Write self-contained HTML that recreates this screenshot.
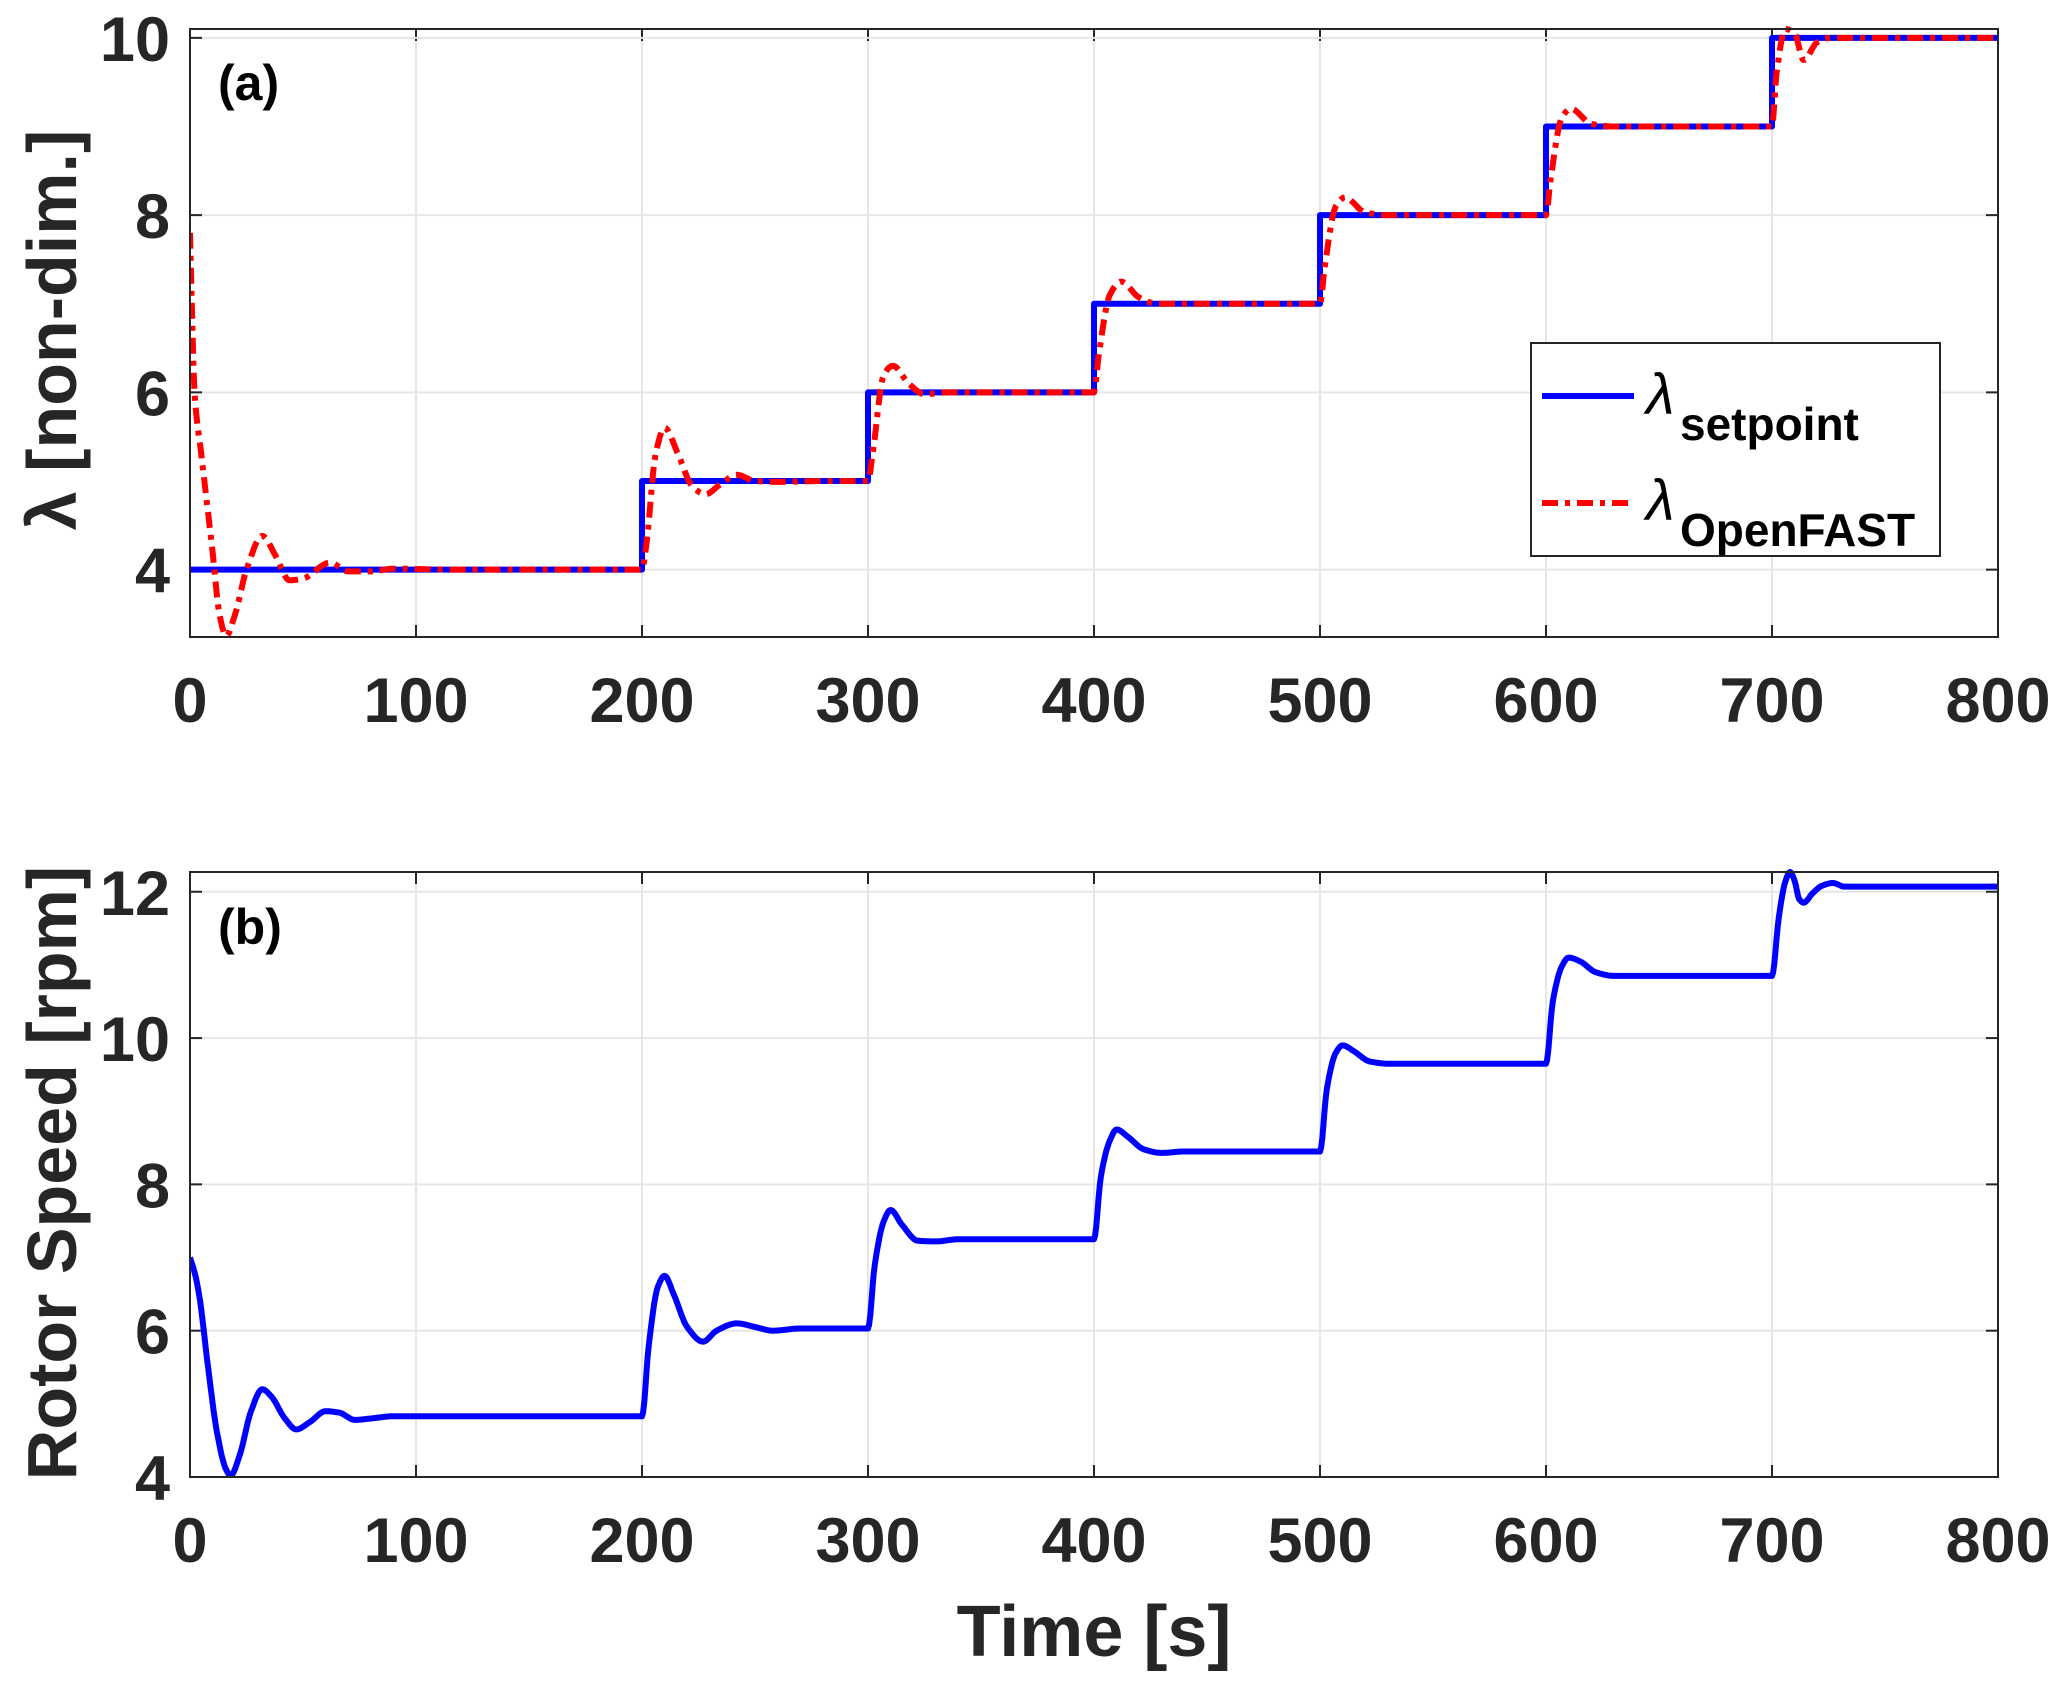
<!DOCTYPE html>
<html><head><meta charset="utf-8"><style>
html,body{margin:0;padding:0;background:#fff}
svg{display:block}
text{font-family:"Liberation Sans",Arial,sans-serif;font-weight:bold;fill:#262626}
</style></head><body>
<svg id="s" width="2067" height="1687" viewBox="0 0 2067 1687" xmlns="http://www.w3.org/2000/svg">
<g id="g"></g>
<text x="52" y="330" font-size="70" text-anchor="middle" transform="rotate(-90 52 330)" dominant-baseline="central">λ [non-dim.]</text>
<text x="52" y="1173" font-size="70" text-anchor="middle" transform="rotate(-90 52 1173)" dominant-baseline="central">Rotor Speed [rpm]</text>
<text x="1094" y="1656" font-size="72" text-anchor="middle">Time [s]</text>
<text x="218" y="100" font-size="50" style="fill:#000">(a)</text>
<text x="218" y="944" font-size="50" style="fill:#000">(b)</text>
<rect x="1531" y="343" width="409" height="213" fill="#fff" stroke="#262626" stroke-width="2"/>
<line x1="1542" y1="396" x2="1634" y2="396" stroke="#0000ff" stroke-width="6"/>
<line x1="1542" y1="503" x2="1634" y2="503" stroke="#ff0000" stroke-width="6" stroke-dasharray="16 7 5 7"/>
<text x="1646" y="414" font-size="58" style="font-weight:normal;font-style:italic;fill:#000">λ</text>
<text x="1680" y="440" font-size="46" style="fill:#000">setpoint</text>
<text x="1646" y="520" font-size="58" style="font-weight:normal;font-style:italic;fill:#000">λ</text>
<text x="1680" y="546" font-size="46" style="fill:#000">OpenFAST</text>
</svg>
<script>
var NS="http://www.w3.org/2000/svg",g=document.getElementById('g');
function el(t,a){var e=document.createElementNS(NS,t);for(var k in a)e.setAttribute(k,a[k]);g.appendChild(e);return e;}
var X0=190,X1=1998;
function X(t){return X0+(X1-X0)*t/800;}
function mono(pts){var n=pts.length,xs=pts.map(function(p){return p[0]}),ys=pts.map(function(p){return p[1]});
  var dl=[],m=[];for(var i=0;i<n-1;i++)dl.push((ys[i+1]-ys[i])/(xs[i+1]-xs[i]));
  m[0]=dl[0];m[n-1]=dl[n-2];
  for(i=1;i<n-1;i++){if(dl[i-1]*dl[i]<=0)m[i]=0;else{var w1=2*(xs[i+1]-xs[i])+(xs[i]-xs[i-1]),w2=(xs[i+1]-xs[i])+2*(xs[i]-xs[i-1]);m[i]=(w1+w2)/(w1/dl[i-1]+w2/dl[i]);}}
  var out=[];for(i=0;i<n-1;i++){var h=xs[i+1]-xs[i],N=Math.max(2,Math.ceil(h/0.5));
    for(var j=0;j<N;j++){var s=j/N,h00=2*s*s*s-3*s*s+1,h10=s*s*s-2*s*s+s,h01=-2*s*s*s+3*s*s,h11=s*s*s-s*s;
      out.push([xs[i]+s*h,h00*ys[i]+h10*h*m[i]+h01*ys[i+1]+h11*h*m[i+1]]);}}
  out.push(pts[n-1]);return out;}
function panel(top,bot,ymin,ymax,yt,series){
  function Y(v){return bot-(bot-top)*(v-ymin)/(ymax-ymin);}
  for(var t=0;t<=800;t+=100){var x=X(t);
    if(t>0&&t<800)el('line',{x1:x,y1:top,x2:x,y2:bot,stroke:'#e6e6e6','stroke-width':2});
    el('line',{x1:x,y1:bot,x2:x,y2:bot-12,stroke:'#262626','stroke-width':2});
    el('line',{x1:x,y1:top,x2:x,y2:top+12,stroke:'#262626','stroke-width':2});
    var tx=el('text',{x:x,y:bot+85,'font-size':63,'text-anchor':'middle'});tx.textContent=t;}
  yt.forEach(function(v){var y=Y(v);
    el('line',{x1:X0,y1:y,x2:X1,y2:y,stroke:'#e6e6e6','stroke-width':2});
    el('line',{x1:X0,y1:y,x2:X0+12,y2:y,stroke:'#262626','stroke-width':2});
    el('line',{x1:X1,y1:y,x2:X1-12,y2:y,stroke:'#262626','stroke-width':2});
    var tx=el('text',{x:170,y:y+23,'font-size':63,'text-anchor':'end'});tx.textContent=v;});
  var cp=el('clipPath',{id:'c'+top});var r=document.createElementNS(NS,'rect');
  r.setAttribute('x',X0);r.setAttribute('y',top-4);r.setAttribute('width',X1-X0);r.setAttribute('height',bot-top+4);cp.appendChild(r);
  series.forEach(function(s){
    var src=s.lin?s.pts:mono(s.pts);
    var d='M'+src.map(function(q){return X(q[0]).toFixed(1)+','+Y(q[1]).toFixed(1);}).join('L');
    var a={d:d,fill:'none',stroke:s.c,'stroke-width':6,'clip-path':'url(#c'+top+')','stroke-linejoin':'round'};
    if(s.dash)a['stroke-dasharray']=s.dash;el('path',a);});
  el('rect',{x:X0,y:top,width:X1-X0,height:bot-top,fill:'none',stroke:'#262626','stroke-width':2});
}
var sp=[[0,4],[200,4],[200,5],[300,5],[300,6],[400,6],[400,7],[500,7],[500,8],[600,8],[600,9],[700,9],[700,10],[800,10]];
var of=[[0,7.8],[2,6],[5,5.3],[10,4.2],[13,3.5],[16,3.25],[20,3.5],[25,4.0],[32,4.38],[38,4.15],[44,3.88],[50,3.9],[62,4.08],[70,3.98],[80,3.98],[90,4.01],[120,4],[200,4.0],[202,4.3],[206,5.3],[210,5.6],[216,5.3],[222,4.95],[228,4.85],[235,4.97],[242,5.07],[250,5.0],[260,4.99],[280,5],[300,5.0],[302,5.3],[307,6.2],[311,6.3],[318,6.1],[325,5.98],[335,6.0],[360,6],[400,6.0],[402,6.4],[407,7.1],[412,7.25],[420,7.07],[428,7.0],[460,7],[500,7.0],[502,7.4],[507,8.1],[511,8.2],[520,8.03],[530,8.0],[560,8],[600,8.0],[602,8.4],[607,9.1],[611,9.2],[620,9.03],[630,9.0],[660,9],[700,9.0],[702,9.6],[706,10.1],[710,10.05],[714,9.75],[720,9.95],[726,10.0],[760,10],[800,10.0]];
var rs=[[0,7.0],[2,6.8],[4,6.5],[8,5.5],[12,4.6],[16,4.1],[18,4.02],[22,4.3],[27,4.9],[32,5.2],[36,5.1],[42,4.8],[47,4.65],[53,4.75],[60,4.9],[66,4.88],[73,4.78],[80,4.8],[90,4.83],[140,4.83],[200,4.83],[203,5.8],[207,6.6],[210,6.75],[214,6.5],[220,6.05],[227,5.85],[233,6.0],[242,6.1],[250,6.05],[258,6.0],[270,6.03],[285,6.03],[300,6.03],[303,6.9],[307,7.5],[310,7.65],[315,7.45],[322,7.23],[330,7.22],[340,7.25],[370,7.25],[400,7.25],[403,8.1],[407,8.6],[410,8.75],[415,8.65],[422,8.48],[430,8.43],[440,8.45],[470,8.45],[500,8.45],[503,9.3],[507,9.8],[510,9.9],[515,9.82],[522,9.68],[530,9.65],[560,9.65],[600,9.65],[603,10.5],[607,10.98],[610,11.1],[615,11.05],[622,10.9],[630,10.85],[660,10.85],[700,10.85],[703,11.65],[706,12.15],[708,12.27],[710,12.15],[712,11.9],[714,11.85],[718,11.98],[722,12.08],[727,12.12],[732,12.07],[760,12.07],[800,12.07]];
panel(29,637,3.24,10.1,[4,6,8,10],[{pts:sp,c:'#0000ff',lin:true},{pts:of,c:'#ff0000',dash:'16 7 5 7'}]);
panel(872,1477,4,12.27,[4,6,8,10,12],[{pts:rs,c:'#0000ff'}]);
</script>
</body></html>
